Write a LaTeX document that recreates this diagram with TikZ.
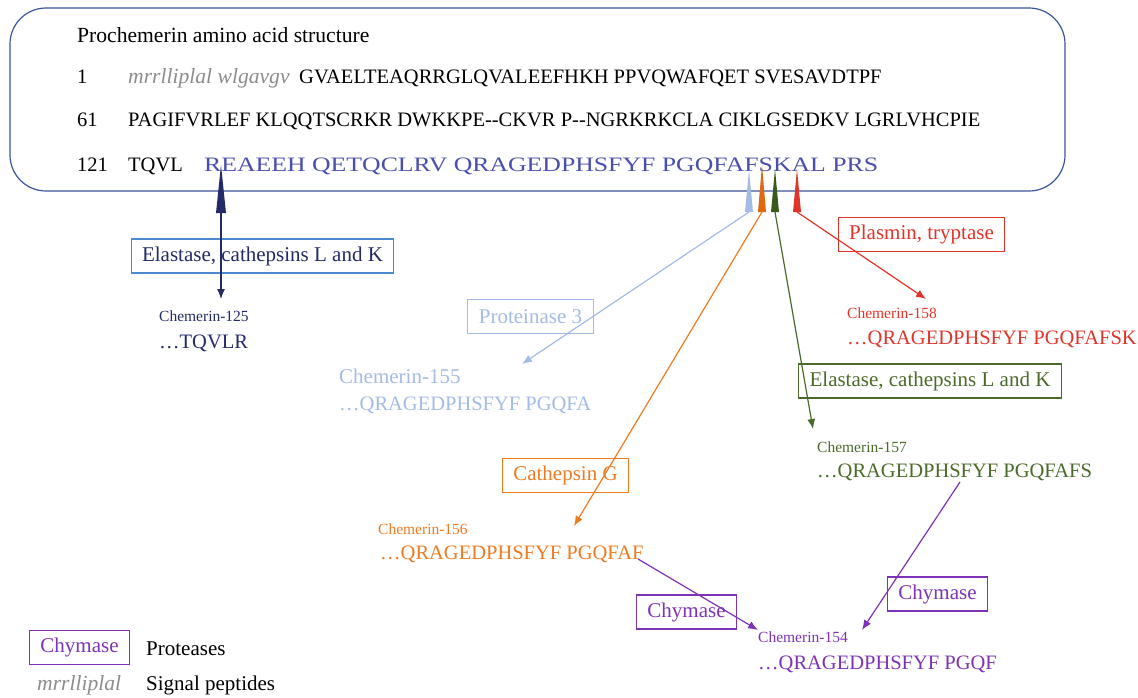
\documentclass[tikz,border=0pt]{standalone}
\usepackage{fontspec}
\setmainfont{Liberation Serif}
\usepackage{graphicx}
\usepackage{tikz}
\usetikzlibrary{arrows.meta}
\definecolor{frameblue}{HTML}{3B549C}
\definecolor{seqblue}{HTML}{4A4FAE}
\definecolor{navy}{HTML}{232A66}
\definecolor{elablue}{HTML}{4B8AD0}
\definecolor{lightblue}{HTML}{A4BBE6}
\definecolor{orng}{HTML}{EE7A22}
\definecolor{darkorng}{HTML}{E0690F}
\definecolor{grn}{HTML}{4B6A2A}
\definecolor{darkgrn}{HTML}{3A5A1C}
\definecolor{rd}{HTML}{E0342A}
\definecolor{purp}{HTML}{7E33B6}
\definecolor{sig}{HTML}{8C8C8C}
\newcommand\bigtxt{\fontsize{21}{25}\selectfont}
\newcommand\seqtxt{\fontsize{20.5}{25}\selectfont}
\newcommand\titletxt{\fontsize{21.6}{25}\selectfont}
\newcommand\smalltxt{\fontsize{15.5}{18}\selectfont}
\newcommand\dd{-\kern0pt-}
\tikzset{
    every node/.style={inner sep=0pt, anchor=base west, font=\seqtxt}
}
\tikzset{
    protease/.style={draw, anchor=center, line width=1.1pt, inner xsep=11pt,
    	minimum height=34pt, font=\bigtxt},
    small/.style={font=\smalltxt},
    signal/.style={sig, font=\titletxt\itshape}
}
\tikzset{
    cut/.style={line width=1.2pt, -{Latex[length=10pt,width=8pt]}}
}

\begin{document}
\begin{tikzpicture}[x=1pt, y=-1pt]
	\useasboundingbox (0,0) rectangle (1138,697);
	% precursor box
	\draw[frameblue, line width=1.2pt, rounded corners=36pt]
		(10,8) rectangle (1065,191);
	\node[font=\titletxt] (title) at (77,42) {Prochemerin amino acid structure};
	\node (n1) at (77,83) {1};
	\node[signal] (sp) at (128,83) {mrrlliplal wlgavgv};
	\node (r1) at (299,83) {GVAELTEAQRRGLQVALEEFHKH PPVQWAFQET SVESAVDTPF};
	\node (n61) at (77,126) {61};
	\node (r61) at (128,126)
		{PAGIFVRLEF KLQQTSCRKR DWKKPE\dd CKVR P\dd NGRKRKCLA CIKLGSEDKV LGRLVHCPIE};
	\node (n121) at (77,171) {121};
	\node (r121) at (128,171) {TQVL};
	\node[seqblue] (chem) at (204,171)
		{\resizebox{674pt}{\height}{REAEEH QETQCLRV QRAGEDPHSFYF PGQFAFSKAL PRS}};

	% cleavage sites
	\fill[navy] (216,213) -- (221,165) -- (226,213) -- cycle;
	\fill[lightblue] (745,212) -- (749,170) -- (753,212) -- cycle;
	\fill[darkorng] (758,212) -- (762,165) -- (766,212) -- cycle;
	\fill[darkgrn] (771,212) -- (775,169) -- (779,212) -- cycle;
	\fill[rd] (793,212) -- (797,169) -- (801,212) -- cycle;
	\coordinate (s125) at (221,212);
	\coordinate (s155) at (749,212);
	\coordinate (s156) at (762,212);
	\coordinate (s157) at (775,212);
	\coordinate (s158) at (797,212);

	% proteases
	\node[protease, navy, draw=elablue] (ela1) at (262.5,256) {Elastase, cathepsins L and K};
	\node[protease, lightblue] (pr3) at (530.5,316.5) {Proteinase 3};
	\node[protease, orng] (catg) at (565.5,475.5) {Cathepsin G};
	\node[protease, grn] (ela2) at (930,381) {Elastase, cathepsins L and K};
	\node[protease, rd] (plas) at (921.5,234.5) {Plasmin, tryptase};
	\node[protease, purp] (chy1) at (686.5,612) {Chymase};
	\node[protease, purp] (chy2) at (937.5,594) {Chymase};

	% products
	\node[small, navy] (c125) at (159,321) {Chemerin-125};
	\node[navy] (q125) at (159,348) {…TQVLR};
	\node[lightblue, font=\bigtxt] (c155) at (339,383) {Chemerin-155};
	\node[lightblue] (q155) at (339,410) {…QRAGEDPHSFYF PGQFA};
	\node[small, orng] (c156) at (378,534) {Chemerin-156};
	\node[orng] (q156) at (380,559) {…QRAGEDPHSFYF PGQFAF};
	\node[small, grn] (c157) at (817,452) {Chemerin-157};
	\node[grn] (q157) at (817,477) {…QRAGEDPHSFYF PGQFAFS};
	\node[small, rd] (c158) at (847,318) {Chemerin-158};
	\node[rd] (q158) at (847,344) {…QRAGEDPHSFYF PGQFAFSK};
	\node[small, purp] (c154) at (758,642) {Chemerin-154};
	\node[purp] (q154) at (758,669) {…QRAGEDPHSFYF PGQF};

	\coordinate (e125) at (221,299);
	\coordinate (e155) at (522,364);
	\coordinate (e156) at (574,526);
	\coordinate (e157) at (813,429);
	\coordinate (e158) at (926,299);
	\coordinate (e154a) at (758,630);
	\coordinate (e154b) at (862,630);
	\coordinate (f156) at (638,559);
	\coordinate (f157) at (960,482);
	\draw[cut, navy] (s125) -- (e125);
	\draw[cut, lightblue] (s155) -- (e155);
	\draw[cut, orng] (s156) -- (e156);
	\draw[cut, grn] (s157) -- (e157);
	\draw[cut, rd] (s158) -- (e158);
	\draw[cut, purp] (f156) -- (e154a);
	\draw[cut, purp] (f157) -- (e154b);

	% legend
	\node[protease, purp] (key) at (79.5,647.5) {Chymase};
	\node[font=\bigtxt] (keyt) at (146,655) {Proteases};
	\node[signal] (sigk) at (37,690) {mrrlliplal};
	\node[font=\bigtxt] (sigt) at (146,690) {Signal peptides};
\end{tikzpicture}
\end{document}
